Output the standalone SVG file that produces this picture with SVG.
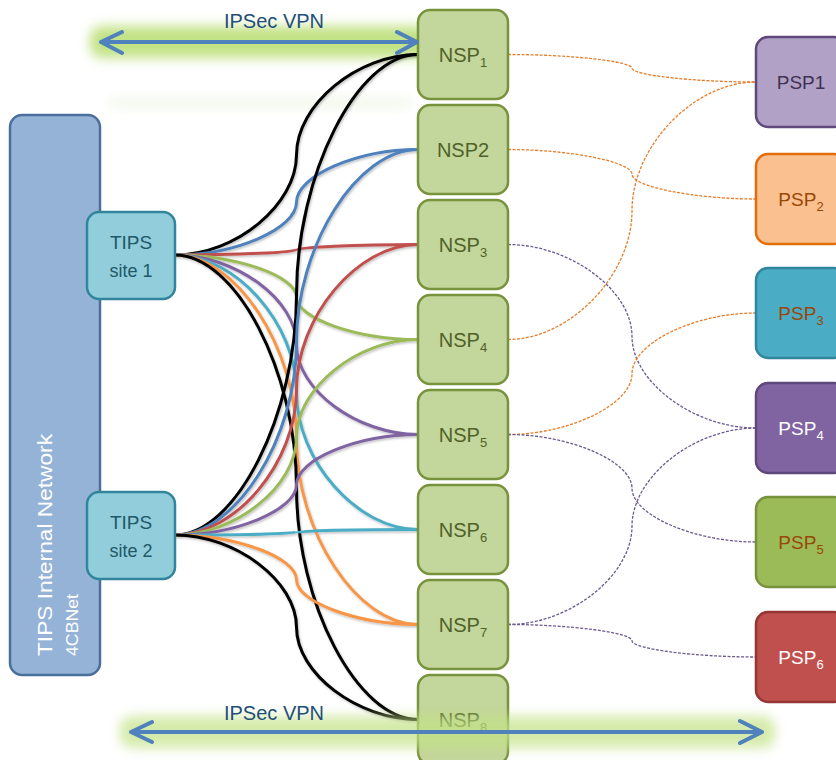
<svg xmlns="http://www.w3.org/2000/svg" width="836" height="760" viewBox="0 0 836 760">
<defs>
<filter id="glow" x="-20%" y="-100%" width="140%" height="300%"><feGaussianBlur stdDeviation="6"/></filter>
<filter id="shadow" x="-10%" y="-10%" width="120%" height="120%"><feDropShadow dx="1" dy="1.5" stdDeviation="1" flood-color="#000" flood-opacity="0.25"/></filter>
<style>
text{font-family:"Liberation Sans",Arial,sans-serif}
.nsp rect{fill:#c3d69b;stroke:#77933c;stroke-width:2.5}
.nsp text{fill:#4f6228;font-size:20px;text-anchor:middle}
.psp text{font-size:19px;text-anchor:middle}
.site rect{fill:#92cddc;stroke:#31859c;stroke-width:2.5}
.site text{fill:#215968;text-anchor:middle}
.sub{font-size:13px}
.c path{fill:none;stroke-width:3}
.d path{fill:none;stroke-width:1.3;stroke-dasharray:3 1.5}
.or{stroke:#e97b26}
.pu{stroke:#6b5a8e}
.arr{fill:none;stroke:#4f81bd;stroke-width:4;stroke-linecap:round;stroke-linejoin:round}
.vpn{fill:#1f4e79;font-size:20px;text-anchor:middle}
.gl{fill:#c2e285;filter:url(#glow)}
</style>
</defs>
<rect width="836" height="760" fill="#fff"/>

<g id="glow-top">
<rect class="gl" x="90" y="26" width="340" height="32" rx="12"/>
<rect x="110" y="99" width="300" height="8" fill="#e3f0d2" opacity="0.6" filter="url(#glow)"/>
</g>

<g id="tips-network">
<rect x="10" y="115" width="90" height="560" rx="12" fill="#95b3d7" stroke="#4a6f9c" stroke-width="2.5"/>
<text transform="translate(52,656) rotate(-90)" fill="#fff" font-size="20" textLength="222" lengthAdjust="spacingAndGlyphs">TIPS Internal Network</text>
<text transform="translate(78,656) rotate(-90)" fill="#fff" font-size="16" textLength="62" lengthAdjust="spacingAndGlyphs">4CBNet</text>
</g>

<g id="connectors">
<g class="c" filter="url(#shadow)">
<path stroke="#000" d="M175 255C235.75 255 296.5 204.88 296.5 154.75C296.5 104.63 357.25 54.5 418 54.5"/>
<path stroke="#4f81bd" d="M175 255C235.75 255 296.5 228.63 296.5 202.25C296.5 175.88 357.25 149.5 418 149.5"/>
<path stroke="#c0504d" d="M175 255C235.75 255 296.5 252.38 296.5 249.75C296.5 247.13 357.25 244.5 418 244.5"/>
<path stroke="#9bbb59" d="M175 255C235.75 255 296.5 276.13 296.5 297.25C296.5 318.38 357.25 339.5 418 339.5"/>
<path stroke="#8064a2" d="M175 255C235.75 255 296.5 299.88 296.5 344.75C296.5 389.63 357.25 434.5 418 434.5"/>
<path stroke="#4bacc6" d="M175 255C235.75 255 296.5 323.63 296.5 392.25C296.5 460.88 357.25 529.5 418 529.5"/>
<path stroke="#f79646" d="M175 255C235.75 255 296.5 347.38 296.5 439.75C296.5 532.13 357.25 624.5 418 624.5"/>
<path stroke="#000" d="M175 255C235.75 255 296.5 371.13 296.5 487.25C296.5 603.38 357.25 719.5 418 719.5"/>
<path stroke="#000" d="M175 535C235.75 535 296.5 414.88 296.5 294.75C296.5 174.63 357.25 54.5 418 54.5"/>
<path stroke="#4f81bd" d="M175 535C235.75 535 296.5 438.63 296.5 342.25C296.5 245.88 357.25 149.5 418 149.5"/>
<path stroke="#c0504d" d="M175 535C235.75 535 296.5 462.38 296.5 389.75C296.5 317.13 357.25 244.5 418 244.5"/>
<path stroke="#9bbb59" d="M175 535C235.75 535 296.5 486.13 296.5 437.25C296.5 388.38 357.25 339.5 418 339.5"/>
<path stroke="#8064a2" d="M175 535C235.75 535 296.5 509.88 296.5 484.75C296.5 459.63 357.25 434.5 418 434.5"/>
<path stroke="#4bacc6" d="M175 535C235.75 535 296.5 533.63 296.5 532.25C296.5 530.88 357.25 529.5 418 529.5"/>
<path stroke="#f79646" d="M175 535C235.75 535 296.5 557.38 296.5 579.75C296.5 602.13 357.25 624.5 418 624.5"/>
<path stroke="#000" d="M175 535C235.75 535 296.5 581.13 296.5 627.25C296.5 673.38 357.25 719.5 418 719.5"/>
</g>
<g class="d">
<path class="or" d="M508 54.5C570 54.5 632 61.38 632 68.25C632 75.13 694 82 756 82"/>
<path class="or" d="M508 149.5C570 149.5 632 161.88 632 174.25C632 186.63 694 199 756 199"/>
<path class="or" d="M508 339.5C570 339.5 632 275.13 632 210.75C632 146.38 694 82 756 82"/>
<path class="pu" d="M508 244.5C570 244.5 632 290.38 632 336.25C632 382.13 694 428 756 428"/>
<path class="or" d="M508 434.5C570 434.5 632 404.13 632 373.75C632 343.38 694 313 756 313"/>
<path class="pu" d="M508 434.5C570 434.5 632 461.38 632 488.25C632 515.13 694 542 756 542"/>
<path class="pu" d="M508 624.5C570 624.5 632 575.38 632 526.25C632 477.13 694 428 756 428"/>
<path class="pu" d="M508 624.5C570 624.5 632 632.63 632 640.75C632 648.88 694 657 756 657"/>
</g>
</g>

<g id="site1" class="site">
<rect x="87" y="212" width="88" height="87" rx="12"/>
<text x="131" y="249" font-size="19">TIPS</text>
<text x="131" y="277" font-size="18">site 1</text>
</g>
<g id="site2" class="site">
<rect x="87" y="492" width="88" height="87" rx="12"/>
<text x="131" y="529" font-size="19">TIPS</text>
<text x="131" y="557" font-size="18">site 2</text>
</g>

<g id="nsp1" class="nsp"><rect x="418" y="10" width="90" height="89" rx="12"/><text x="463" y="62">NSP<tspan class="sub" dy="5">1</tspan></text></g>
<g id="nsp2" class="nsp"><rect x="418" y="105" width="90" height="89" rx="12"/><text x="463" y="157">NSP2</text></g>
<g id="nsp3" class="nsp"><rect x="418" y="200" width="90" height="89" rx="12"/><text x="463" y="252">NSP<tspan class="sub" dy="5">3</tspan></text></g>
<g id="nsp4" class="nsp"><rect x="418" y="295" width="90" height="89" rx="12"/><text x="463" y="347">NSP<tspan class="sub" dy="5">4</tspan></text></g>
<g id="nsp5" class="nsp"><rect x="418" y="390" width="90" height="89" rx="12"/><text x="463" y="442">NSP<tspan class="sub" dy="5">5</tspan></text></g>
<g id="nsp6" class="nsp"><rect x="418" y="485" width="90" height="89" rx="12"/><text x="463" y="537">NSP<tspan class="sub" dy="5">6</tspan></text></g>
<g id="nsp7" class="nsp"><rect x="418" y="580" width="90" height="89" rx="12"/><text x="463" y="632">NSP<tspan class="sub" dy="5">7</tspan></text></g>
<g id="nsp8" class="nsp"><rect x="418" y="675" width="90" height="89" rx="12"/><text x="463" y="727">NSP<tspan class="sub" dy="5">8</tspan></text></g>

<g id="psp1" class="psp"><rect x="756" y="37" width="90" height="90" rx="12" fill="#b2a1c7" stroke="#5f497a" stroke-width="2.5"/><text x="801" y="89" fill="#3f3151">PSP1</text></g>
<g id="psp2" class="psp"><rect x="756" y="154" width="90" height="90" rx="12" fill="#fac090" stroke="#e46c0a" stroke-width="2.5"/><text x="801" y="206" fill="#984807">PSP<tspan class="sub" dy="5">2</tspan></text></g>
<g id="psp3" class="psp"><rect x="756" y="268" width="90" height="90" rx="12" fill="#4bacc6" stroke="#31859c" stroke-width="2.5"/><text x="801" y="320" fill="#984807">PSP<tspan class="sub" dy="5">3</tspan></text></g>
<g id="psp4" class="psp"><rect x="756" y="383" width="90" height="90" rx="12" fill="#8064a2" stroke="#5f497a" stroke-width="2.5"/><text x="801" y="435" fill="#fff">PSP<tspan class="sub" dy="5">4</tspan></text></g>
<g id="psp5" class="psp"><rect x="756" y="497" width="90" height="90" rx="12" fill="#9bbb59" stroke="#76923c" stroke-width="2.5"/><text x="801" y="549" fill="#984807">PSP<tspan class="sub" dy="5">5</tspan></text></g>
<g id="psp6" class="psp"><rect x="756" y="612" width="90" height="90" rx="12" fill="#c0504d" stroke="#943634" stroke-width="2.5"/><text x="801" y="664" fill="#fff">PSP<tspan class="sub" dy="5">6</tspan></text></g>

<g id="vpn-top">
<path class="arr" d="M101 42H417M122 32L101 42L122 53M397 32L417 42L397 53"/>
<text class="vpn" x="274" y="28">IPSec VPN</text>
</g>

<g id="vpn-bottom">
<rect class="gl" x="120" y="716" width="655" height="32" rx="12" opacity="0.7"/>
<path class="arr" d="M131 732H762M152 722L131 732L152 742M740 721L762 732L740 743"/>
<text class="vpn" x="274" y="720">IPSec VPN</text>
</g>
</svg>
